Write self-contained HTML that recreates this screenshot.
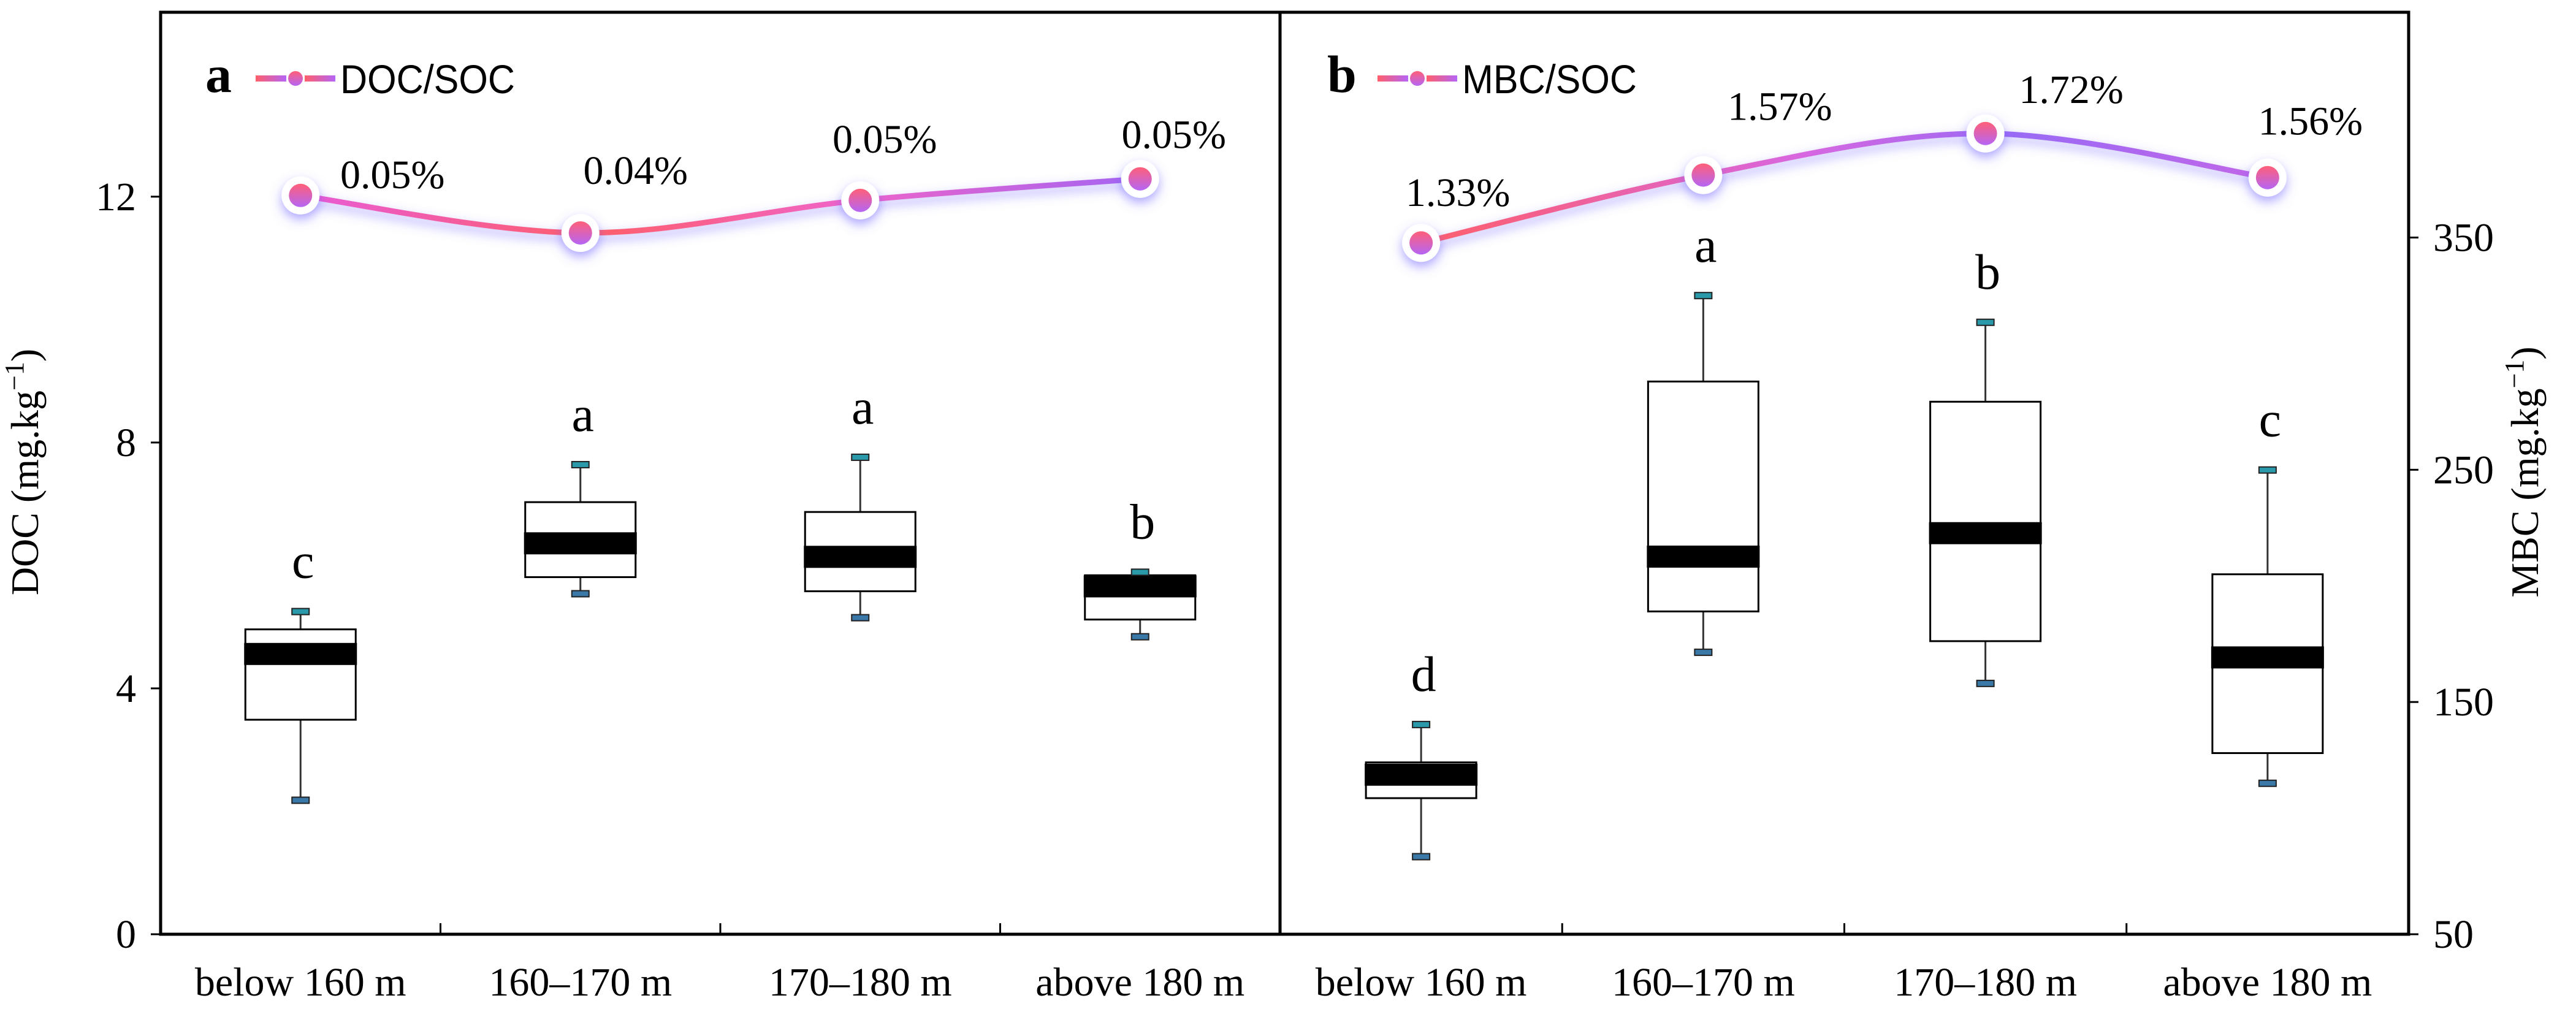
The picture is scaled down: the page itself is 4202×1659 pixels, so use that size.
<!DOCTYPE html>
<html><head><meta charset="utf-8"><style>
html,body{margin:0;padding:0;background:#fff;}
svg{display:block;}
text{font-family:"Liberation Serif",serif;fill:#000;}
</style></head><body>
<svg id="chart" width="4202" height="1659" viewBox="0 0 4202 1659" xmlns="http://www.w3.org/2000/svg">
<defs>
<linearGradient id="lineGradA" x1="0" y1="0" x2="1" y2="0"><stop offset="0" stop-color="#e85ad8"/><stop offset="0.35" stop-color="#ff5f6a"/><stop offset="0.65" stop-color="#f064c8"/><stop offset="1" stop-color="#a465f2"/></linearGradient>
<linearGradient id="lineGradB" x1="0" y1="0" x2="1" y2="0"><stop offset="0" stop-color="#ff5f6a"/><stop offset="0.45" stop-color="#d866e0"/><stop offset="0.7" stop-color="#9a6af5"/><stop offset="1" stop-color="#c266e8"/></linearGradient>
<linearGradient id="dotGrad" x1="0" y1="0" x2="0" y2="1"><stop offset="0" stop-color="#ff5f78"/><stop offset="1" stop-color="#b565f5"/></linearGradient>
<linearGradient id="legGrad" x1="0" y1="0" x2="1" y2="0"><stop offset="0" stop-color="#ff5f6a"/><stop offset="1" stop-color="#b565f5"/></linearGradient>
<filter id="glow" x="-1" y="-1" width="3" height="3"><feDropShadow dx="0" dy="8" stdDeviation="9" flood-color="#6a5cff" flood-opacity="0.55"/></filter>
</defs>
<g id="root"></g>
</svg>
<script>
const categories = ["below 160 m", "160–170 m", "170–180 m", "above 180 m"];
const docMin = [2.18, 5.54, 5.15, 4.84];
const docQ1 = [3.49, 5.81, 5.58, 5.12];
const docMedian = [4.56, 6.36, 6.14, 5.66];
const docQ3 = [4.96, 7.03, 6.87, 5.84];
const docMax = [5.25, 7.64, 7.76, 5.89];
const docLetters = ["c", "a", "a", "b"];
const docRatioPos = [12.02, 11.41, 11.94, 12.29];
const docRatioLabels = ["0.05%", "0.04%", "0.05%", "0.05%"];
const docTicks = [0, 4, 8, 12];
const mbcMin = [83.4, 171.4, 158, 115];
const mbcQ1 = [108.6, 189, 176.2, 128];
const mbcMedian = [118.7, 212.6, 222.7, 169.2];
const mbcQ3 = [124, 288, 279.3, 205];
const mbcMax = [140.3, 325, 313.5, 249.9];
const mbcLetters = ["d", "a", "b", "c"];
const mbcRatioPos = [347.7, 376.9, 394.8, 375.8];
const mbcRatioLabels = ["1.33%", "1.57%", "1.72%", "1.56%"];
const mbcTicks = [50, 150, 250, 350];

const NS = "http://www.w3.org/2000/svg";
const root = document.getElementById("root");
function el(tag, attrs, parent, txt) {
  const e = document.createElementNS(NS, tag);
  for (const k in attrs) e.setAttribute(k, attrs[k]);
  if (txt !== undefined) e.textContent = txt;
  (parent || root).appendChild(e);
  return e;
}
const TOP = 20, BOT = 1524;
function smoothPath(pts) {
  let d = "M" + pts[0][0] + "," + pts[0][1];
  for (let i = 0; i < pts.length - 1; i++) {
    const p0 = pts[i - 1] || pts[i], p1 = pts[i], p2 = pts[i + 1], p3 = pts[i + 2] || p2;
    const t = 0.5 / 3;
    d += " C" + (p1[0] + (p2[0] - p0[0]) * t) + "," + (p1[1] + (p2[1] - p0[1]) * t) + " " +
      (p2[0] - (p3[0] - p1[0]) * t) + "," + (p2[1] - (p3[1] - p1[1]) * t) + " " + p2[0] + "," + p2[1];
  }
  return d;
}
function panel(cfg) {
  const g = el("g", {});
  
  
  const y = v => BOT - (v - cfg.dmin) / (cfg.dmax - cfg.dmin) * (BOT - TOP);
  const bw = (cfg.x1 - cfg.x0) / categories.length;
  const cx = i => cfg.x0 + bw * (i + 0.5);
  for (let i = 1; i < categories.length; i++) {
    const t = el("line", {x1: cfg.x0 + bw * i, x2: cfg.x0 + bw * i, y1: BOT, y2: BOT - 18, stroke: "#000", "stroke-width": 3}, g);
    
    
  }
  categories.forEach((c, i) => {
    const t = el("text", {x: cx(i), y: 1624, "font-size": 66, "text-anchor": "middle"}, g, c);
    
    
  });
  cfg.ticks.forEach(v => {
    const tx = cfg.side === "left" ? cfg.x0 : cfg.x1;
    const dir = cfg.side === "left" ? -1 : 1;
    const l = el("line", {x1: tx, x2: tx + dir * 16, y1: y(v), y2: y(v), stroke: "#000", "stroke-width": 3}, g);
    
    
    const t = el("text", {x: tx + dir * 40, y: y(v) + 22, "font-size": 66, "text-anchor": cfg.side === "left" ? "end" : "start"}, g, v);
    
    
  });
  categories.forEach((c, i) => {
    const x = cx(i), w = 180;
    const wl = el("line", {x1: x, x2: x, y1: y(cfg.max[i]), y2: y(cfg.min[i]), stroke: "#333", "stroke-width": 3}, g);
    
    
    const b = el("rect", {x: x - w / 2, y: y(cfg.q3[i]), width: w, height: y(cfg.q1[i]) - y(cfg.q3[i]), fill: "#fff", stroke: "#000", "stroke-width": 3}, g);
    
    
    const m = el("rect", {x: x - w / 2 - 2, y: y(cfg.med[i]) - 18, width: w + 4, height: 36, fill: "#000"}, g);
    
    
    const c1 = el("rect", {x: x - 14, y: y(cfg.max[i]) - 5, width: 28, height: 10, fill: "#2a9aaa", stroke: "#222", "stroke-width": 2}, g);
    
    
    const c2 = el("rect", {x: x - 14, y: y(cfg.min[i]) - 5, width: 28, height: 10, fill: "#3a78a8", stroke: "#222", "stroke-width": 2}, g);
    
    
    const lt = el("text", {x: x + cfg.letterDx, y: y(cfg.max[i]) - 55, "font-size": 82, "text-anchor": "middle"}, g, cfg.letters[i]);
    
    
  });
  const pts = cfg.ratio.map((v, i) => [cx(i), y(v)]);
  const ln = el("path", {d: smoothPath(pts), fill: "none", stroke: cfg.grad, "stroke-width": 9, filter: "url(#glow)"}, g);
  
  
  pts.forEach((p, i) => {
    const o = el("circle", {cx: p[0], cy: p[1], r: 31, fill: "#fff", filter: "url(#glow)"}, g);
    
    
    const d = el("circle", {cx: p[0], cy: p[1], r: 19, fill: "url(#dotGrad)"}, g);
    
    
    const t = el("text", {x: p[0] + cfg.labDx[i], y: p[1] + cfg.labDy[i], "font-size": 66, "text-anchor": "middle", style: "font-family:'Liberation Serif',serif"}, g, cfg.labels[i]);
    
    
  });
  const lg = el("g", {}, g);
  
  
  const pl = el("text", {x: cfg.legX, y: 150, "font-size": 86, "font-weight": "bold"}, lg, cfg.letter);
  
  
  const l1 = el("rect", {x: cfg.legX + 82, y: 123, width: 50, height: 10, fill: "url(#legGrad)"}, lg);
  
  
  const l2 = el("rect", {x: cfg.legX + 162, y: 123, width: 50, height: 10, fill: "url(#legGrad)"}, lg);
  
  
  const ld = el("circle", {cx: cfg.legX + 147, cy: 128, r: 12, fill: "url(#dotGrad)"}, lg);
  
  
  const lt = el("text", {x: cfg.legX + 220, y: 152, "font-size": 66, style: "font-family:'Liberation Sans',sans-serif", textLength: 285, lengthAdjust: "spacingAndGlyphs"}, lg, cfg.legText);
  
  
  const tx = cfg.side === "left" ? 62 : 4140;
  const ty = 770;
  const at = el("text", {x: tx, y: ty, "font-size": 64, "text-anchor": "middle", transform: "rotate(-90 " + tx + " " + ty + ")"}, g);
  
  
  el("tspan", {}, at, cfg.title + " (mg.kg");
  el("tspan", {dy: -24, "font-size": 44}, at, "−1");
  el("tspan", {dy: 24}, at, ")");
}
panel({name: "panel-a-doc", x0: 262, x1: 2088, dmin: 0, dmax: 15, side: "left", ticks: docTicks,
  min: docMin, q1: docQ1, med: docMedian, q3: docQ3, max: docMax, letters: docLetters, letterDx: 4,
  ratio: docRatioPos, labels: docRatioLabels, labDx: [150, 90, 40, 55], labDy: [-12, -80, -78, -50],
  grad: "url(#lineGradA)", legX: 335, letter: "a", legText: "DOC/SOC", title: "DOC"});
panel({name: "panel-b-mbc", x0: 2088, x1: 3929, dmin: 50, dmax: 447, side: "right", ticks: mbcTicks,
  min: mbcMin, q1: mbcQ1, med: mbcMedian, q3: mbcQ3, max: mbcMax, letters: mbcLetters, letterDx: 4,
  ratio: mbcRatioPos, labels: mbcRatioLabels, labDx: [60, 125, 140, 70], labDy: [-60, -90, -50, -70],
  grad: "url(#lineGradB)", legX: 2165, letter: "b", legText: "MBC/SOC", title: "MBC"});
const fr = el("path", {d: "M262,20 H3929 V1524 H262 Z M2088,20 V1524", fill: "none", stroke: "#000", "stroke-width": 5});


</script>
</body></html>
